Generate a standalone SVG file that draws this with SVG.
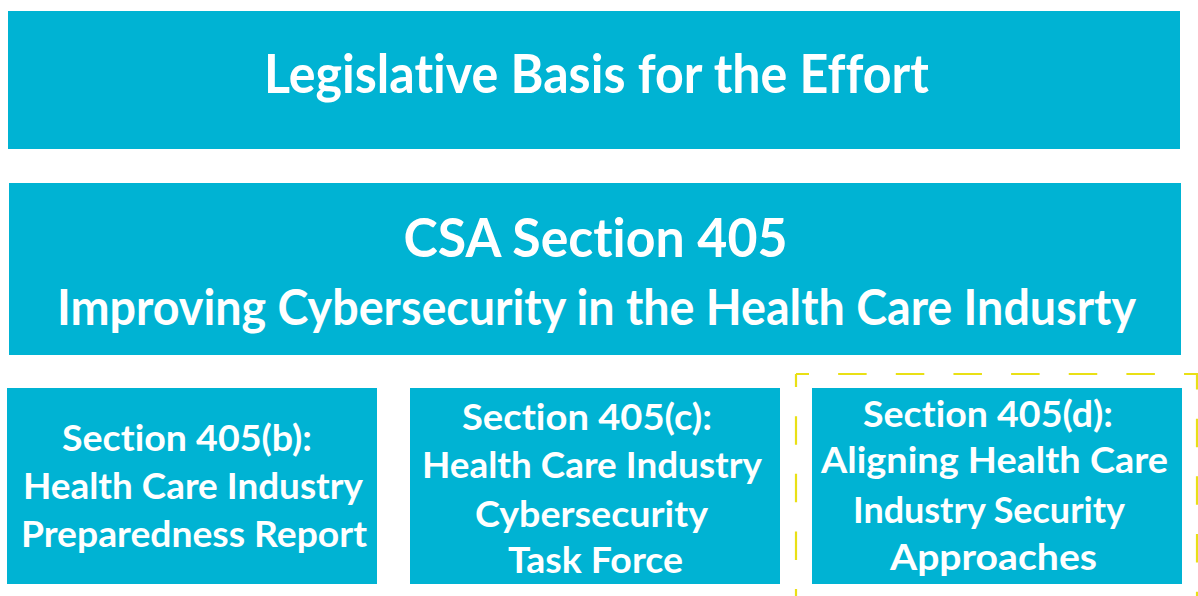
<svg xmlns="http://www.w3.org/2000/svg" width="1198" height="596" viewBox="0 0 1198 596">
  <style>
    .box { fill: #00B3D3; }
    .t { font-family: Lato, "Liberation Sans", "DejaVu Sans", sans-serif; font-weight: 700; fill: #FFFFFF; text-anchor: middle; font-variant-ligatures: none; }
    .h1 { font-size: 53px; }
    .h2 { font-size: 49px; }
    .s { font-size: 37px; }
    .frame { fill: none; stroke: #E9E015; stroke-width: 2.2; stroke-dasharray: 28.5 29.15; stroke-dashoffset: 15.5; }
  </style>

  <rect width="1198" height="596" fill="#FFFFFF"/>

  <!-- Title banner -->
  <g id="legislative-basis">
    <rect class="box" x="8" y="11" width="1172" height="138"/>
    <text class="t h1" x="596.5" y="93" textLength="665" lengthAdjust="spacingAndGlyphs">Legislative Basis for the Effort</text>
  </g>

  <!-- Main section -->
  <g id="csa-section-405">
    <rect class="box" x="9" y="183" width="1172" height="172"/>
    <text class="t h1" x="595.5" y="257" textLength="384" lengthAdjust="spacingAndGlyphs">CSA Section 405</text>
    <text class="t h2" x="596.5" y="325" textLength="1079" lengthAdjust="spacingAndGlyphs">Improving Cybersecurity in the Health Care Indusrty</text>
  </g>

  <!-- Subsections -->
  <g id="section-405b">
    <rect class="box" x="7" y="388" width="370" height="196"/>
    <text class="t s" x="187" y="451" textLength="250" lengthAdjust="spacingAndGlyphs">Section 405(b):</text>
    <text class="t s" x="193" y="499" textLength="340" lengthAdjust="spacingAndGlyphs">Health Care Industry</text>
    <text class="t s" x="194" y="547" textLength="346" lengthAdjust="spacingAndGlyphs">Preparedness Report</text>
  </g>

  <g id="section-405c">
    <rect class="box" x="410" y="388" width="370" height="196"/>
    <text class="t s" x="587" y="430" textLength="250" lengthAdjust="spacingAndGlyphs">Section 405(c):</text>
    <text class="t s" x="592" y="478" textLength="340" lengthAdjust="spacingAndGlyphs">Health Care Industry</text>
    <text class="t s" x="591.5" y="527" textLength="233" lengthAdjust="spacingAndGlyphs">Cybersecurity</text>
    <text class="t s" x="595.5" y="573" textLength="175" lengthAdjust="spacingAndGlyphs">Task Force</text>
  </g>

  <g id="section-405d">
    <rect class="box" x="812" y="388" width="370" height="196"/>
    <text class="t s" x="988" y="427" textLength="250" lengthAdjust="spacingAndGlyphs">Section 405(d):</text>
    <text class="t s" x="994.5" y="473" textLength="347" lengthAdjust="spacingAndGlyphs">Aligning Health Care</text>
    <text class="t s" x="989" y="523" textLength="272" lengthAdjust="spacingAndGlyphs">Industry Security</text>
    <text class="t s" x="993.5" y="570" textLength="207" lengthAdjust="spacingAndGlyphs">Approaches</text>
  </g>

  <!-- Dashed highlight around 405(d) -->
  <g id="highlight">
    <path class="frame" d="M796,374 H1197 V620"/>
    <path class="frame" d="M796,374 V620"/>
  </g>

  <g id="connectors"></g>
</svg>
